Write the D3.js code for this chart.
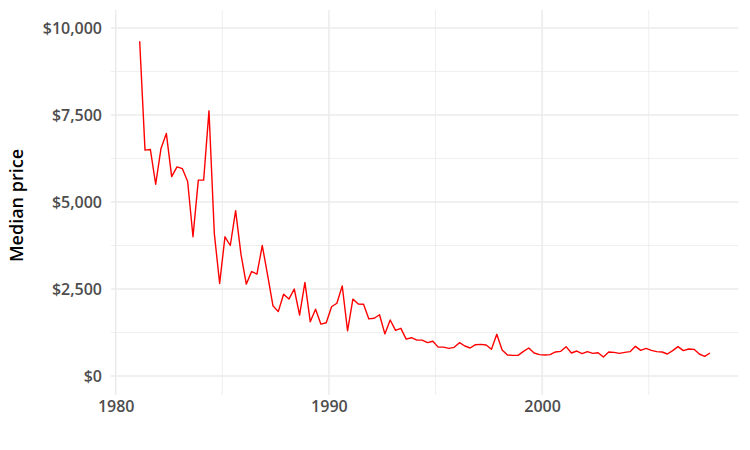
<!DOCTYPE html>
<html>
<head>
<meta charset="utf-8">
<script src="https://cdn.jsdelivr.net/npm/d3@7"></script>
<style>
  html, body { margin: 0; padding: 0; background: #fff; }
  svg { display: block; }
</style>
</head>
<body>
<svg id="chart" width="750" height="450"></svg>
<script>
// Quarterly median price, 1981 Q1 .. 2007 Q4
const startYear = 1981;
const quarters = ["Q1", "Q2", "Q3", "Q4"];
const medianPrice = [
  9620, 6490, 6510, 5510, 6540, 6970, 5730, 6010, 5960, 5590,
  4000, 5630, 5630, 7620, 4100, 2660, 4000, 3750, 4750, 3500,
  2640, 3000, 2930, 3750, 2900, 2020, 1850, 2350, 2210, 2500,
  1750, 2690, 1560, 1920, 1490, 1530, 1990, 2090, 2590, 1300,
  2210, 2070, 2060, 1640, 1660, 1760, 1210, 1610, 1310, 1370,
  1060, 1100, 1030, 1030, 960, 1000, 830, 830, 795, 824,
  957, 862, 805, 900, 910, 890, 767, 1198, 747, 603,
  594, 594, 709, 805, 661, 613, 603, 613, 690, 709,
  843, 661, 718, 641, 699, 651, 670, 546, 690, 680,
  651, 680, 699, 853, 738, 795, 738, 699, 690, 632,
  728, 843, 728, 776, 766, 632, 565, 661
];
const xMajorTicks = [1980, 1990, 2000];
const xMinorTicks = [1985, 1995, 2005];
const yMajorTicks = [0, 2500, 5000, 7500, 10000];
const yMinorTicks = [1250, 3750, 6250, 8750];
const yTitle = "Median price";

const data = medianPrice.map((v, i) => ({
  t: startYear + Math.floor(i / 4) + (quarters.indexOf(quarters[i % 4]) + 0.5) / 4,
  v: v
}));

const svg = d3.select("#chart");
const panel = { left: 111, right: 738.5, top: 10, bottom: 395 };

const x = d3.scaleLinear().domain([1980, 2000]).range([115.7, 542.1]);
const y = d3.scaleLinear().domain([0, 10000]).range([376, 28]);

const font = "'Open Sans', Lato, 'DejaVu Sans', sans-serif";

const grid = svg.append("g");
grid.selectAll("line.ymin").data(yMinorTicks).join("line")
  .attr("x1", panel.left).attr("x2", panel.right)
  .attr("y1", d => y(d)).attr("y2", d => y(d))
  .attr("stroke", "#EBEBEB").attr("stroke-width", 0.8);
grid.selectAll("line.xmin").data(xMinorTicks).join("line")
  .attr("y1", panel.top).attr("y2", panel.bottom)
  .attr("x1", d => x(d)).attr("x2", d => x(d))
  .attr("stroke", "#EBEBEB").attr("stroke-width", 0.8);
grid.selectAll("line.ymaj").data(yMajorTicks).join("line")
  .attr("x1", panel.left).attr("x2", panel.right)
  .attr("y1", d => y(d)).attr("y2", d => y(d))
  .attr("stroke", "#EBEBEB").attr("stroke-width", 1.5);
grid.selectAll("line.xmaj").data(xMajorTicks).join("line")
  .attr("y1", panel.top).attr("y2", panel.bottom)
  .attr("x1", d => x(d)).attr("x2", d => x(d))
  .attr("stroke", "#EBEBEB").attr("stroke-width", 1.5);

const fmt = d => "$" + d3.format(",")(d);
const yAxis = svg.append("g")
  .attr("transform", `translate(${panel.left - 1},0)`)
  .call(d3.axisLeft(y).tickValues(yMajorTicks).tickFormat(fmt).tickSize(0).tickPadding(8));
yAxis.select(".domain").remove();
yAxis.selectAll("text").attr("font-family", font).attr("font-size", 16).attr("font-weight", 600).attr("fill", "#4D4D4D");

const xAxis = svg.append("g")
  .attr("transform", `translate(0,${panel.bottom})`)
  .call(d3.axisBottom(x).tickValues(xMajorTicks).tickFormat(d3.format("d")).tickSize(0).tickPadding(6));
xAxis.select(".domain").remove();
xAxis.selectAll("text").attr("font-family", font).attr("font-size", 16).attr("font-weight", 600).attr("fill", "#4D4D4D");

svg.append("text")
  .attr("transform", `translate(23,${(panel.top + panel.bottom) / 2 + 3}) rotate(-90)`)
  .attr("text-anchor", "middle")
  .attr("font-family", font).attr("font-size", 18).attr("font-weight", 600)
  .attr("fill", "#000")
  .text(yTitle);

const line = d3.line().x(d => x(d.t)).y(d => y(d.v));
svg.append("path").datum(data)
  .attr("d", line)
  .attr("fill", "none")
  .attr("stroke", "#FF0000")
  .attr("stroke-width", 1.4)
  .attr("stroke-linejoin", "round");
</script>
</body>
</html>
